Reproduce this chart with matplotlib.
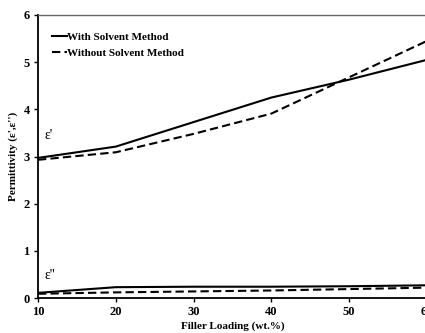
import matplotlib
matplotlib.use("Agg")
import matplotlib.pyplot as plt

# filler loading (wt.%)
loading = [10, 20, 30, 40, 50, 60]
# real permittivity e'
ep_with = [2.97, 3.21, 3.73, 4.25, 4.63, 5.05]
ep_without = [2.93, 3.09, 3.48, 3.91, 4.68, 5.45]
# imaginary permittivity e''
epp_with = [0.11, 0.23, 0.24, 0.24, 0.25, 0.27]
epp_without = [0.09, 0.12, 0.14, 0.16, 0.19, 0.22]

plt.rcParams['font.family'] = ['Liberation Serif', 'DejaVu Serif']

fig = plt.figure(figsize=(4.25, 3.33), dpi=100)
ax = fig.add_axes([0.0894, 0.105, 0.9153, 0.850])

lw = 1.5
ax.plot(loading, ep_with, '-', color='black', lw=lw, label='With Solvent Method')
ax.plot(loading, ep_without, '--', color='black', lw=lw, dashes=(4, 2),
        label='Without Solvent Method')
ax.plot(loading, epp_with, '-', color='black', lw=lw)
ax.plot(loading, epp_without, '--', color='black', lw=lw, dashes=(4, 2))

ax.set_xlim(10, 60)
ax.set_ylim(0, 6)
ax.set_xticks([10, 20, 30, 40, 50, 60])
ax.set_yticks([0, 1, 2, 3, 4, 5, 6])

ax.text(10.9, 3.38, "ε'", fontsize=10)
ax.text(10.9, 0.41, "ε''", fontsize=10)

ax.set_xlabel('Filler Loading (wt.%)', fontsize=8, fontweight='bold', labelpad=2)
ax.set_ylabel("Permittivity (ε',ε'')", fontsize=8, fontweight='bold', labelpad=4)

for lab in ax.get_xticklabels() + ax.get_yticklabels():
    lab.set_fontweight('bold')
ax.tick_params(axis='both', direction='out', length=3, width=1, labelsize=9, pad=3)

ax.spines['left'].set_linewidth(1.3)
ax.spines['bottom'].set_linewidth(1.3)
ax.spines['top'].set_color('#666666')
ax.spines['top'].set_linewidth(1.0)
ax.spines['right'].set_visible(False)

leg = ax.legend(loc='upper left', frameon=False, handlelength=1.4,
                handletextpad=0.0, labelspacing=0.6,
                bbox_to_anchor=(0.01, 0.975),
                prop={'weight': 'bold', 'size': 8})

fig.savefig('out.png', dpi=100)
